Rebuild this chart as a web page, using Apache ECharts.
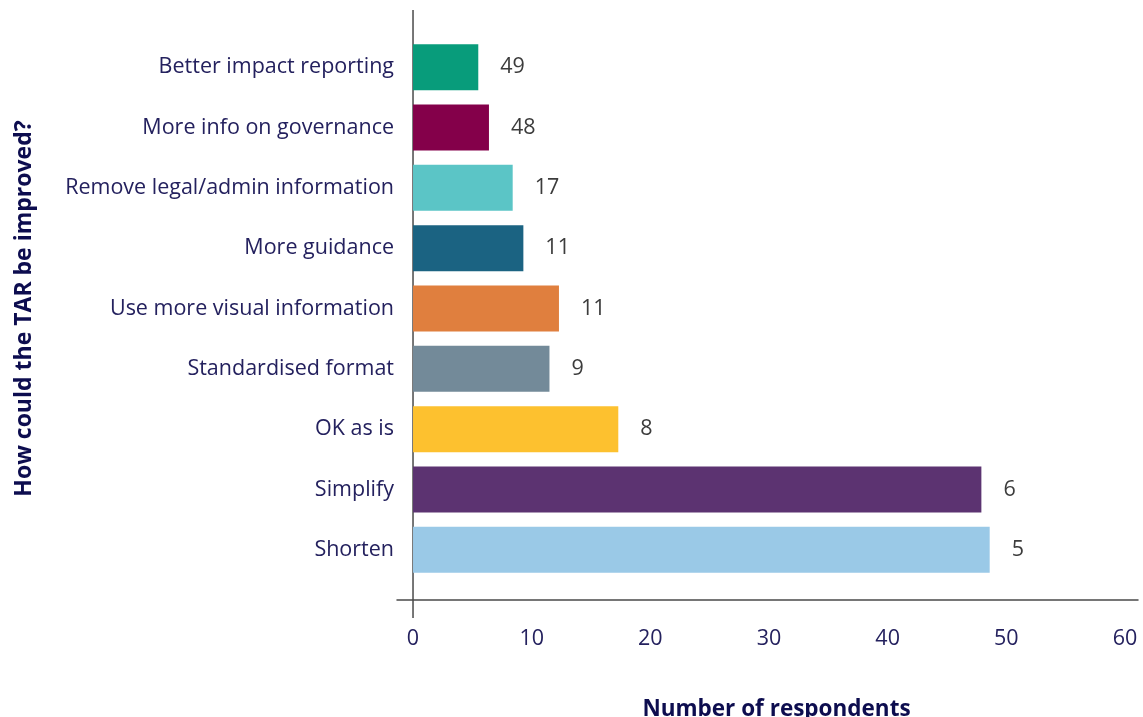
<!DOCTYPE html>
<html>
<head>
<meta charset="utf-8">
<script src="https://cdn.jsdelivr.net/npm/echarts@6/dist/echarts.min.js"></script>
<style>
  html, body { margin: 0; padding: 0; background: #fff; }
  #chart { width: 1143px; height: 717px; }
</style>
</head>
<body>
<div id="chart"></div>
<script>
// categories, top to bottom
const categories = [
    'Better impact reporting',
    'More info on governance',
    'Remove legal/admin information',
    'More guidance',
    'Use more visual information',
    'Standardised format',
    'OK as is',
    'Simplify',
    'Shorten'
];
// bar lengths as drawn
const barValues = [5.5, 6.4, 8.4, 9.3, 12.3, 11.5, 17.3, 47.9, 48.6];
// the numbers printed next to the bars
const barLabels = [49, 48, 17, 11, 11, 9, 8, 6, 5];
const barColors = ['#089c7b', '#84004a', '#5bc5c6', '#1b6382', '#e07f3e',
                   '#738a99', '#fdc12f', '#5c3371', '#9ac9e7'];
const xTicks = [0, 10, 20, 30, 40, 50, 60];

const navy = '#24215e';
const font = 'Open Sans';

let myChart = echarts.init(document.getElementById('chart'));

let option = {
    animation: false,
    grid: {
        left: 397,
        right: 5,
        top: 37,
        bottom: 137,
        outerBoundsMode: 'none'
    },
    xAxis: {
        type: 'value',
        min: -1.35,
        max: 61.1,
        offset: 20,
        name: 'Number of respondents',
        nameLocation: 'middle',
        nameGap: 98,
        nameTextStyle: {
            color: '#0d0d4f',
            fontFamily: font,
            fontWeight: 'bold',
            fontSize: 22.5,
            padding: [0, 0, 0, 18]
        },
        splitLine: { show: false },
        axisLine: { show: true, lineStyle: { color: '#4a4a4a', width: 1.5 } },
        axisTick: { show: false },
        axisLabel: {
            customValues: xTicks,
            margin: 28,
            color: navy,
            fontFamily: font,
            fontSize: 21.5
        }
    },
    yAxis: {
        type: 'category',
        inverse: true,
        data: categories,
        name: 'How could the TAR be improved?',
        nameLocation: 'middle',
        nameRotate: 90,
        nameGap: 361,
        nameTextStyle: {
            color: '#0d0d4f',
            fontFamily: font,
            fontWeight: 'bold',
            fontSize: 23
        },
        axisLine: { show: false },
        axisTick: { show: false },
        axisLabel: {
            margin: 3,
            color: navy,
            fontFamily: font,
            fontSize: 21.5
        }
    },
    series: [{
        type: 'bar',
        barWidth: 46,
        data: barValues.map((v, i) => ({
            value: v,
            itemStyle: { color: barColors[i] }
        })),
        label: {
            show: true,
            position: 'right',
            distance: 22,
            color: '#3c3c3c',
            fontFamily: font,
            fontSize: 21.5,
            formatter: p => String(barLabels[p.dataIndex])
        }
    }]
};

myChart.setOption(option);

// vertical axis line through x = 0, longer than the plot area
let x0 = myChart.convertToPixel({ xAxisIndex: 0 }, 0);
myChart.setOption({
    graphic: [{
        type: 'line',
        shape: { x1: x0, y1: 10, x2: x0, y2: 618 },
        style: { stroke: '#4a4a4a', lineWidth: 1.5 }
    }]
});
</script>
</body>
</html>
